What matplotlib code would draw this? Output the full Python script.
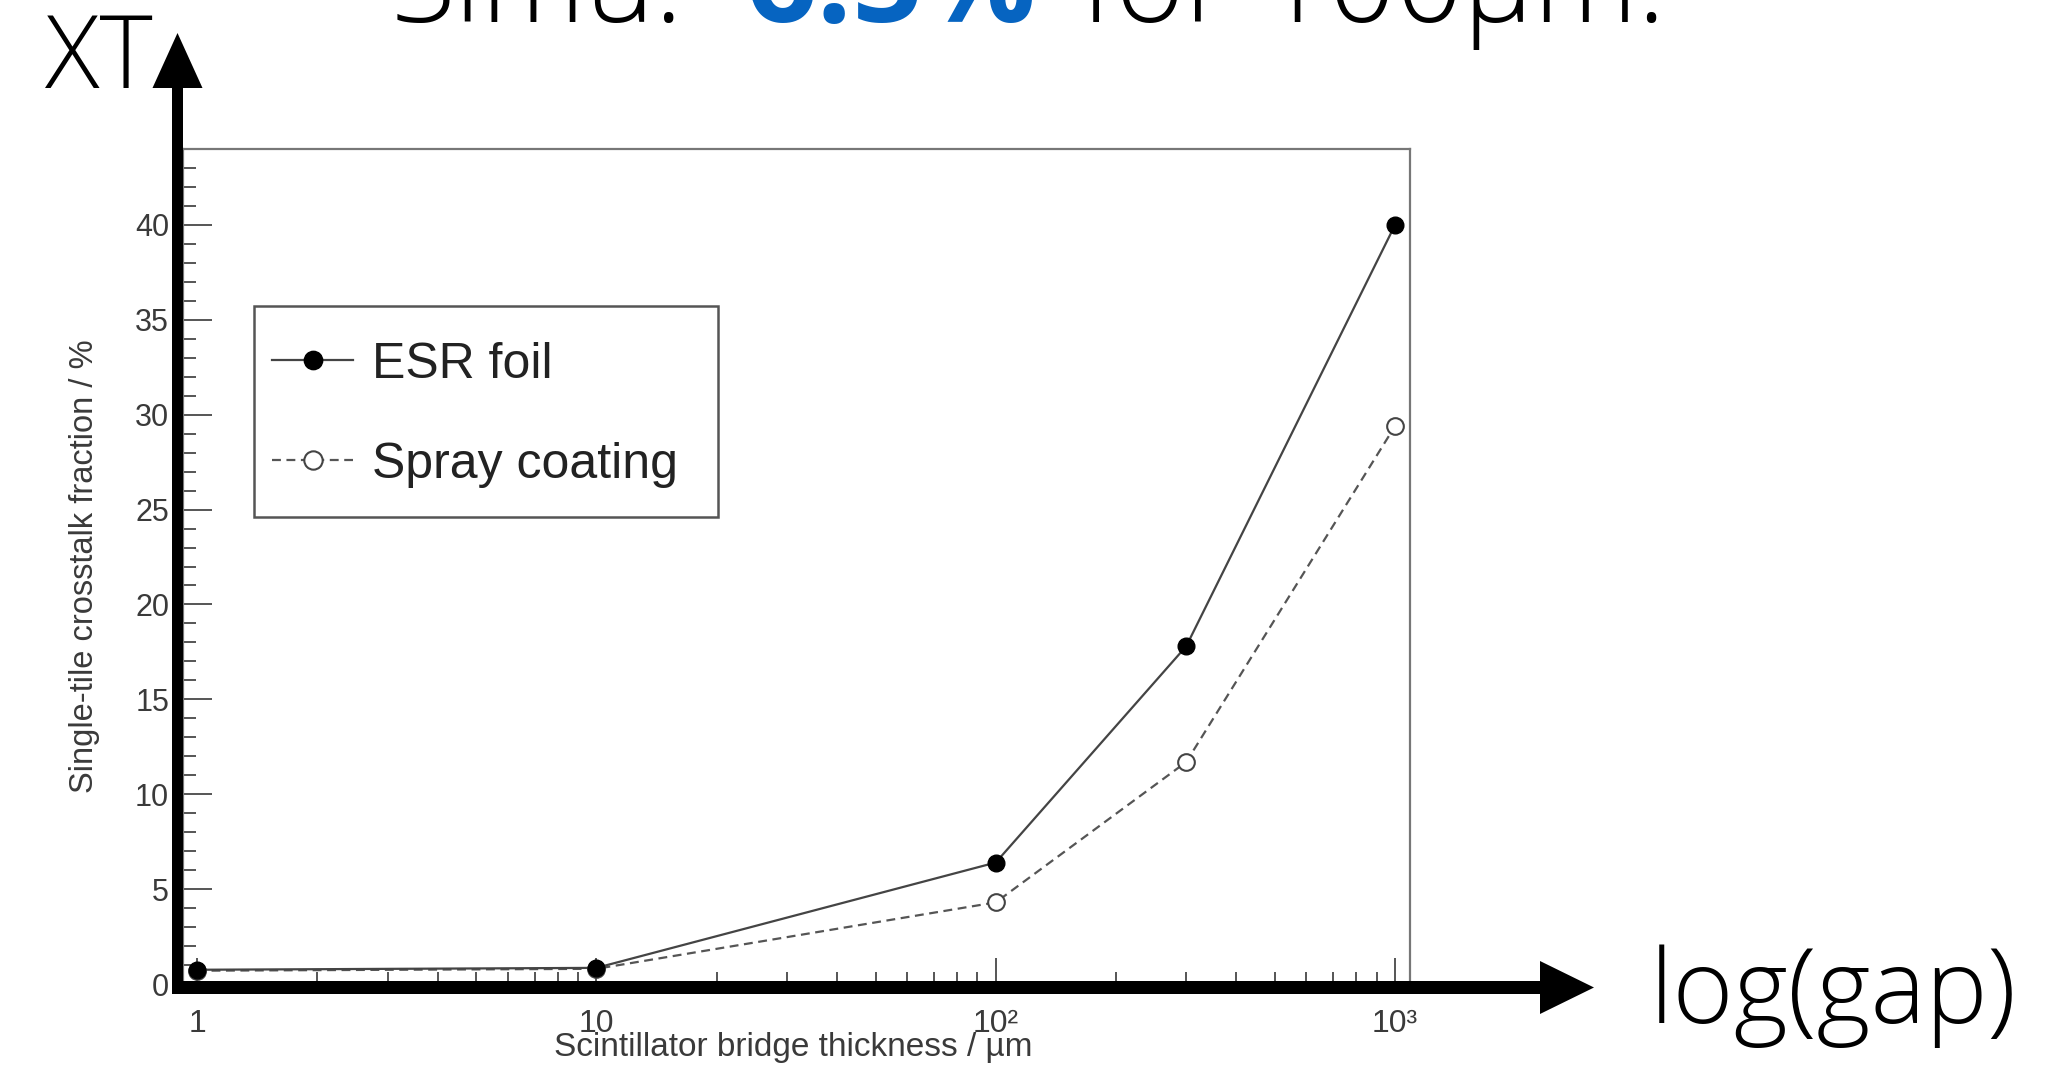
import numpy as np
import matplotlib
matplotlib.use("Agg")
import matplotlib.pyplot as plt
from matplotlib.ticker import MultipleLocator, LogLocator, FixedLocator, NullFormatter
from matplotlib.patches import FancyArrow, Rectangle

# data
gap_um = [1, 10, 100, 300, 1000]
esr_xt = [0.75, 0.85, 6.4, 17.8, 40.0]
spray_xt = [0.7, 0.8, 4.3, 11.7, 29.4]
series_labels = ["ESR foil", "Spray coating"]
x_ticks = [1, 10, 100, 1000]
x_ticklabels = ["1", "10", "10²", "10³"]
y_ticks = [0, 5, 10, 15, 20, 25, 30, 35, 40]

W, H = 2065, 1066
root_font = "Liberation Sans"
slide_font = "Open Sans"
grey = "#3a3a3a"

fig = plt.figure(figsize=(W / 100, H / 100), dpi=100)


def px_box(l, t, r, b):
    # pixel box (top-left origin) -> figure fraction rect
    return [l / W, 1 - b / H, (r - l) / W, (b - t) / H]


# the ROOT plot
ax = fig.add_axes(px_box(183, 149, 1410, 984))
ax.set_xscale("log")
ax.plot(gap_um, esr_xt, "-", color="#444444", lw=1.6, marker="o", ms=12,
        mfc="black", mec="black", label=series_labels[0], zorder=3)
ax.plot(gap_um, spray_xt, linestyle=(0, (4, 2.5)), color="#555555", lw=1.6,
        marker="o", ms=12, mfc="white", mec="#444444", mew=1.5,
        label=series_labels[1], zorder=2)
ax.set_xlim(0.922, 1090)
ax.set_ylim(0, 44)

ax.xaxis.set_major_locator(FixedLocator(x_ticks))
ax.set_xticklabels(x_ticklabels)
ax.xaxis.set_minor_locator(LogLocator(base=10, subs=np.arange(2, 10)))
ax.xaxis.set_minor_formatter(NullFormatter())
ax.set_yticks(y_ticks)
ax.yaxis.set_minor_locator(MultipleLocator(1))

ax.tick_params(axis="both", which="both", direction="in", color="#555555",
               width=1.4, labelcolor=grey)
ax.tick_params(axis="y", which="major", length=21, pad=10, labelsize=22)
ax.tick_params(axis="y", which="minor", length=9)
ax.tick_params(axis="x", which="major", length=19, pad=18, labelsize=23)
ax.tick_params(axis="x", which="minor", length=9)
for lab in ax.get_xticklabels() + ax.get_yticklabels():
    lab.set_family(root_font)
for s in ax.spines.values():
    s.set_color("#777777")
    s.set_linewidth(1.6)

ax.set_ylabel("Single-tile crosstalk fraction / %", fontsize=23.5,
              family=root_font, color=grey)
ax.yaxis.set_label_coords(-0.0676, 0.5)
ax.set_xlabel("Scintillator bridge thickness / µm", fontsize=24,
              family=root_font, color=grey)
ax.xaxis.set_label_coords(0.497, -0.058)

# legend box drawn separately, legend entries placed inside it
ax.add_patch(Rectangle((254 / W, 1 - 517 / H), (718 - 254) / W, (517 - 306) / H,
                       transform=fig.transFigure, facecolor="white",
                       edgecolor="#555555", lw=1.8, zorder=4.5, clip_on=False))
leg = ax.legend(loc="upper left", bbox_to_anchor=(272 / W, 1 - 342 / H),
                bbox_transform=fig.transFigure,
                prop={"family": root_font, "size": 36},
                borderpad=0, handlelength=1.62, handletextpad=0.38,
                labelspacing=1.08, borderaxespad=0, frameon=False,
                markerscale=1.1)
leg.set_zorder(6)
for t in leg.get_texts():
    t.set_color("#222222")

# slide overlay: arrows and big text, in pixel coords
ov = fig.add_axes([0, 0, 1, 1], zorder=5)
ov.set_xlim(0, W)
ov.set_ylim(H, 0)
ov.axis("off")
ov.patch.set_alpha(0)

ov.add_patch(FancyArrow(177.5, 994, 0, 33 - 994, width=11, head_width=50,
                        head_length=55, length_includes_head=True,
                        color="black", lw=0))
ov.add_patch(FancyArrow(172, 987.5, 1594 - 172, 0, width=13, head_width=53,
                        head_length=54, length_includes_head=True,
                        color="black", lw=0))

big = dict(family=slide_font, weight="light", va="baseline", ha="left",
           color="black")
ov.text(45, 88, "XT", fontsize=73, **big)
ov.text(1650, 1023, "log(gap)", fontsize=75, **big)
ov.text(391, 22, "Simu:", fontsize=85, **big)
ov.text(1080, 22, "for 100µm.", fontsize=85, **big)
ov.text(746, 22, "6.5%", fontsize=90, family=slide_font, weight="bold",
        va="baseline", ha="left", color="#0664c1")

fig.savefig("out.png", dpi=100)
